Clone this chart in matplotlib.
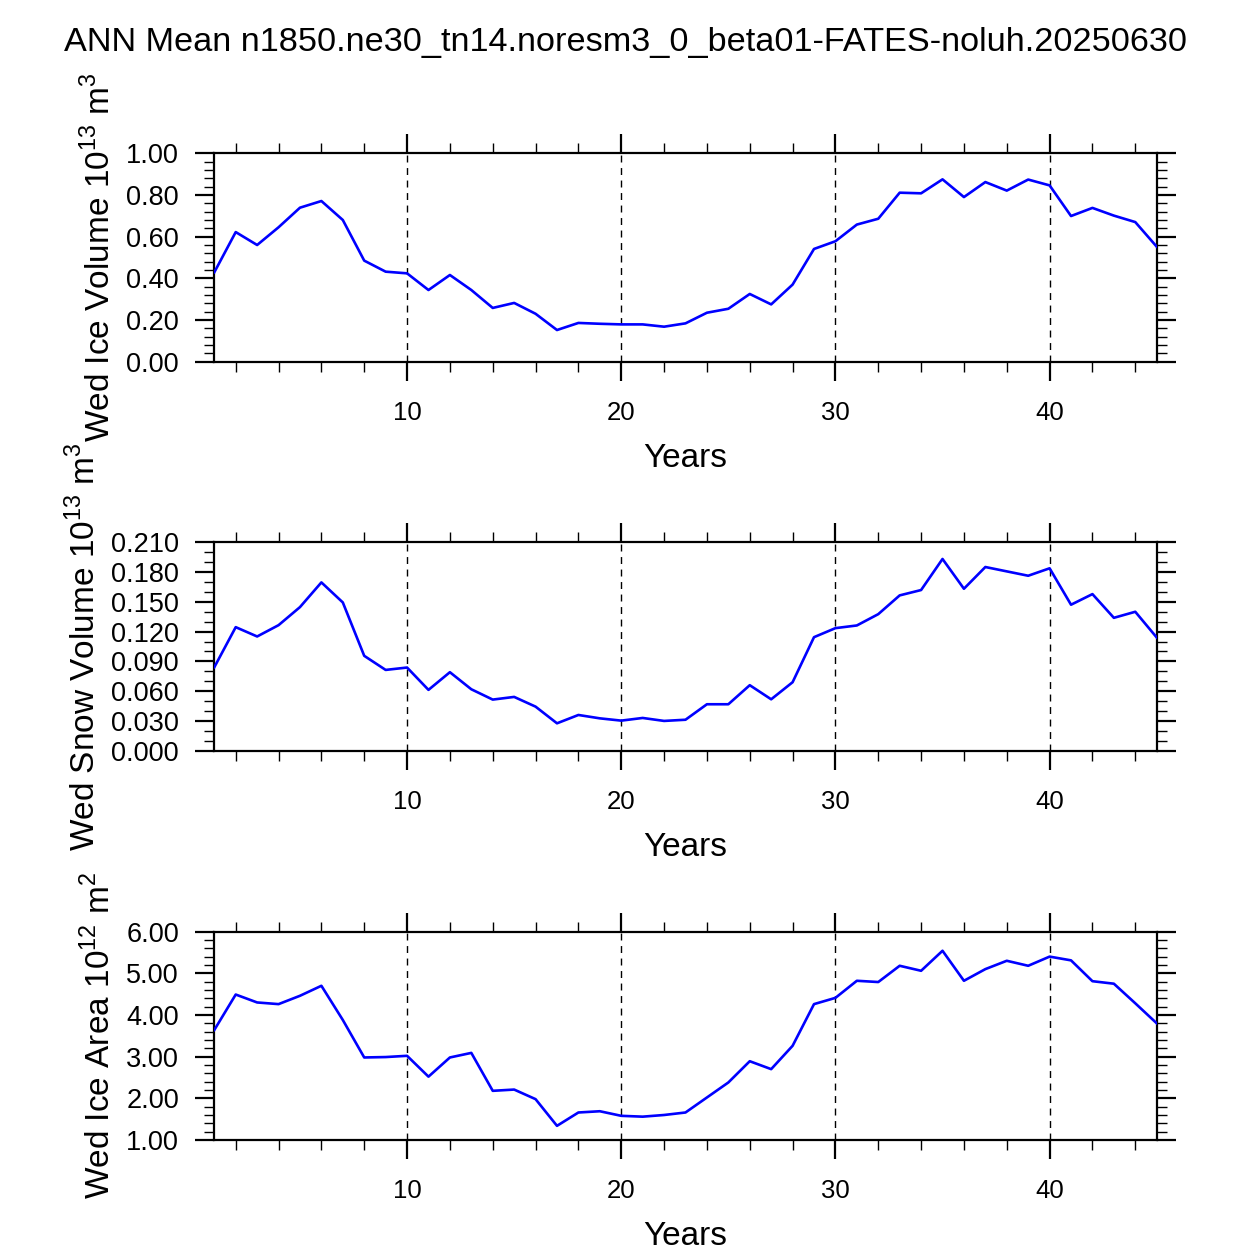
import matplotlib
matplotlib.use("Agg")
import matplotlib.pyplot as plt
from matplotlib.ticker import MultipleLocator, FormatStrFormatter
import numpy as np

plt.rcParams['font.family'] = ['Liberation Sans', 'DejaVu Sans']
plt.rcParams['mathtext.fontset'] = 'custom'
plt.rcParams['mathtext.rm'] = 'Liberation Sans'

years = list(range(1, 46))

ice_volume = [0.429, 0.622, 0.560, 0.645, 0.739, 0.771, 0.680, 0.485, 0.432, 0.424,
              0.344, 0.416, 0.344, 0.258, 0.282, 0.230, 0.152, 0.186, 0.182, 0.179,
              0.179, 0.168, 0.184, 0.235, 0.254, 0.325, 0.275, 0.370, 0.541, 0.578,
              0.658, 0.686, 0.811, 0.808, 0.875, 0.790, 0.862, 0.821, 0.874, 0.846,
              0.699, 0.738, 0.701, 0.670, 0.552]

snow_volume = [0.0841, 0.1245, 0.1151, 0.1265, 0.1447, 0.1696, 0.1494, 0.0956, 0.0814, 0.0838,
               0.0613, 0.0791, 0.0619, 0.0515, 0.0542, 0.0444, 0.0276, 0.0360, 0.0326, 0.0303,
               0.0330, 0.0300, 0.0312, 0.0468, 0.0468, 0.0660, 0.0518, 0.0690, 0.1144, 0.1235,
               0.1262, 0.1376, 0.1565, 0.1619, 0.1932, 0.1632, 0.1851, 0.1807, 0.1763, 0.1838,
               0.1471, 0.1578, 0.1339, 0.1400, 0.1141]

ice_area = [3.64, 4.49, 4.30, 4.26, 4.46, 4.70, 3.88, 2.98, 2.99, 3.02,
            2.52, 2.98, 3.09, 2.18, 2.21, 1.98, 1.34, 1.66, 1.69, 1.58,
            1.56, 1.60, 1.66, 2.02, 2.38, 2.89, 2.70, 3.26, 4.26, 4.41,
            4.82, 4.79, 5.18, 5.06, 5.54, 4.82, 5.10, 5.30, 5.18, 5.40,
            5.31, 4.81, 4.75, 4.28, 3.80]

title = "ANN Mean n1850.ne30_tn14.noresm3_0_beta01-FATES-noluh.20250630"
ylabels = [r"Wed Ice Volume 10$^{13}$ m$^{3}$",
           r"Wed Snow Volume 10$^{13}$ m$^{3}$",
           r"Wed Ice Area 10$^{12}$ m$^{2}$"]
series = [ice_volume, snow_volume, ice_area]
ylims = [(0.0, 1.0), (0.0, 0.21), (1.0, 6.0)]
ymajor = [0.2, 0.03, 1.0]
yminor = [0.04, 0.01, 0.2]
yfmt = ["%.2f", "%.3f", "%.2f"]
vlines = [10, 20, 30, 40]

W = 1252
fig = plt.figure(figsize=(12.52, 12.52), dpi=100)
left = 214.3 / W
width = 942.4 / W
height = 208.4 / W
bottoms_px = [361.7, 750.7, 1140.0]

for i in range(3):
    ax = fig.add_axes([left, 1 - bottoms_px[i] / W, width, height])
    ax.plot(years, series[i], color=(0, 0, 1), lw=1.9, zorder=3)
    for v in vlines:
        ax.axvline(v, color='black', lw=1.0, dashes=(5, 4), zorder=2)
    ax.set_xlim(1, 45)
    ax.set_ylim(*ylims[i])
    ax.xaxis.set_major_locator(MultipleLocator(10))
    ax.xaxis.set_minor_locator(MultipleLocator(2))
    ax.yaxis.set_major_locator(MultipleLocator(ymajor[i]))
    ax.yaxis.set_minor_locator(MultipleLocator(yminor[i]))
    ax.yaxis.set_major_formatter(FormatStrFormatter(yfmt[i]))
    for s in ax.spines.values():
        s.set_linewidth(1.6)
    ax.tick_params(which='both', direction='out', top=True, right=True)
    ax.tick_params(which='major', length=13.5, width=1.6)
    ax.tick_params(which='minor', length=7, width=1.0)
    ax.tick_params(axis='x', which='major', labelsize=18.5, pad=14.5)
    ax.tick_params(axis='y', which='major', labelsize=19.5, pad=12)
    ax.set_xlabel("Years", fontsize=24, labelpad=13)
    ax.set_ylabel(ylabels[i], fontsize=24, labelpad=6.5)

fig.text(0.5, 1 - 42 / W, title, ha='center', va='center', fontsize=24.7)

fig.savefig("out.png", dpi=100)
